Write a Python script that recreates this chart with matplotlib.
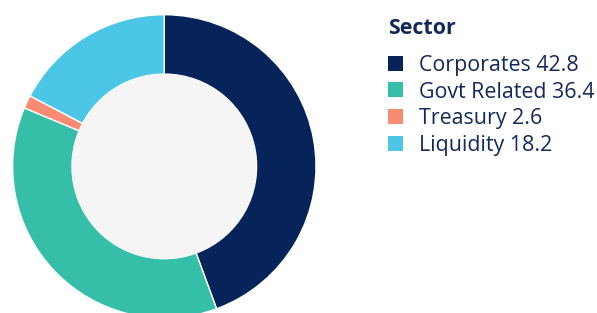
import matplotlib.pyplot as plt
from matplotlib.patches import Circle, Rectangle

# Sector breakdown (legend values)
sectors = ['Corporates', 'Govt Related', 'Treasury', 'Liquidity']
weights = [42.8, 36.4, 2.6, 18.2]
# slice sizes as drawn in the picture (they don't quite follow the labels)
drawn_shares = [44.4, 36.9, 1.4, 17.3]
colors = ['#06245a', '#36bfa8', '#f78c72', '#4bc6e6']
text_color = '#14295a'

W, H = 597, 313
fig = plt.figure(figsize=(W / 100, H / 100), dpi=100)

# donut axes: center (164.3, 166.4) px, radius 151.7 px
cx, cy, r = 164.3, H - 166.4, 151.7
ax = fig.add_axes([(cx - r) / W, (cy - r) / H, 2 * r / W, 2 * r / H])
ax.pie(drawn_shares, colors=colors, startangle=90, counterclock=False, radius=1,
       wedgeprops=dict(width=1 - 92.3 / r, edgecolor='white', linewidth=1))
ax.add_patch(Circle((0, 0), 92.3 / r, facecolor='#f5f5f5', edgecolor='none'))
ax.set_xlim(-1, 1)
ax.set_ylim(-1, 1)
ax.set_aspect('equal')
ax.axis('off')


def fy(px):
    # pixel row from top -> figure fraction
    return 1 - px / H


def fit_size(txt, target_px, **kw):
    # font size that makes txt about target_px wide
    t = fig.text(0, 0, txt, size=10, **kw)
    w = t.get_window_extent(fig.canvas.get_renderer()).width
    t.remove()
    return 10 * target_px / w


labels = [f'{s} {v}' for s, v in zip(sectors, weights)]

# legend drawn by hand so rows sit where the reference has them
title_size = fit_size('Sector', 68, family='Open Sans', weight='bold')
fig.text(388 / W, fy(34), 'Sector', family='Open Sans', weight='bold',
         size=title_size, color=text_color, va='baseline')

item_size = fit_size(labels[1], 175, family='Open Sans')
pitch = 26.7
for i, (lab, c) in enumerate(zip(labels, colors)):
    yc = 63.2 + i * pitch
    fig.patches.append(Rectangle((388 / W, fy(yc + 7.5)), 15 / W, 15 / H,
                                 transform=fig.transFigure, facecolor=c,
                                 edgecolor='none'))
    fig.text(419 / W, fy(yc + 7.6), lab, family='Open Sans', size=item_size,
             color=text_color, va='baseline')

fig.savefig('out.png', dpi=100)
